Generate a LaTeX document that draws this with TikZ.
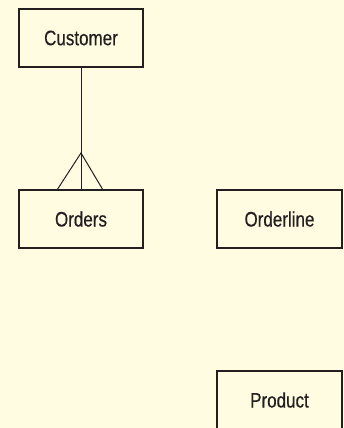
\documentclass[tikz,border=0pt]{standalone}
\usepackage{fontspec}
\setmainfont{Liberation Sans}[FakeStretch=0.81, FakeBold=0.4]
\usepackage{tikz}
\usetikzlibrary{positioning, calc}
\definecolor{mybg}{RGB}{255,252,226}
\definecolor{mydark}{RGB}{35,31,32}
\tikzset{
  entity/.style={rectangle, draw=mydark, fill=mybg, text=mydark,
    minimum width=124pt, minimum height=58pt, inner sep=0pt,
    outer sep=0pt, line width=2pt, font=\fontsize{21}{25}\selectfont},
  line/.style={line width=1pt, color=mydark}
}
\begin{document}
\begin{tikzpicture}[x=1pt, y=-1pt, node distance=123pt and 74pt]
  % Background
  \fill[mybg] (0,0) rectangle (344,428);
  \useasboundingbox (0,0) rectangle (344,428);

  % Entities
  \node[entity] (customer) at (81,38) {Customer};
  \node[entity, below=of customer] (orders) {Orders};
  \node[entity, right=of orders, minimum width=125pt] (orderline) {Orderline};
  \node[entity, below=of orderline, minimum width=125pt] (product) {Product};

  % Crow's foot
  \coordinate (crow) at ($(orders.north)+(0,-37)$);
  \draw[line] (customer.south) -- (orders.north);
  \draw[line] ($(orders.north)+(-24,0)$) -- (crow) -- ($(orders.north)+(22,0)$);
\end{tikzpicture}
\end{document}
